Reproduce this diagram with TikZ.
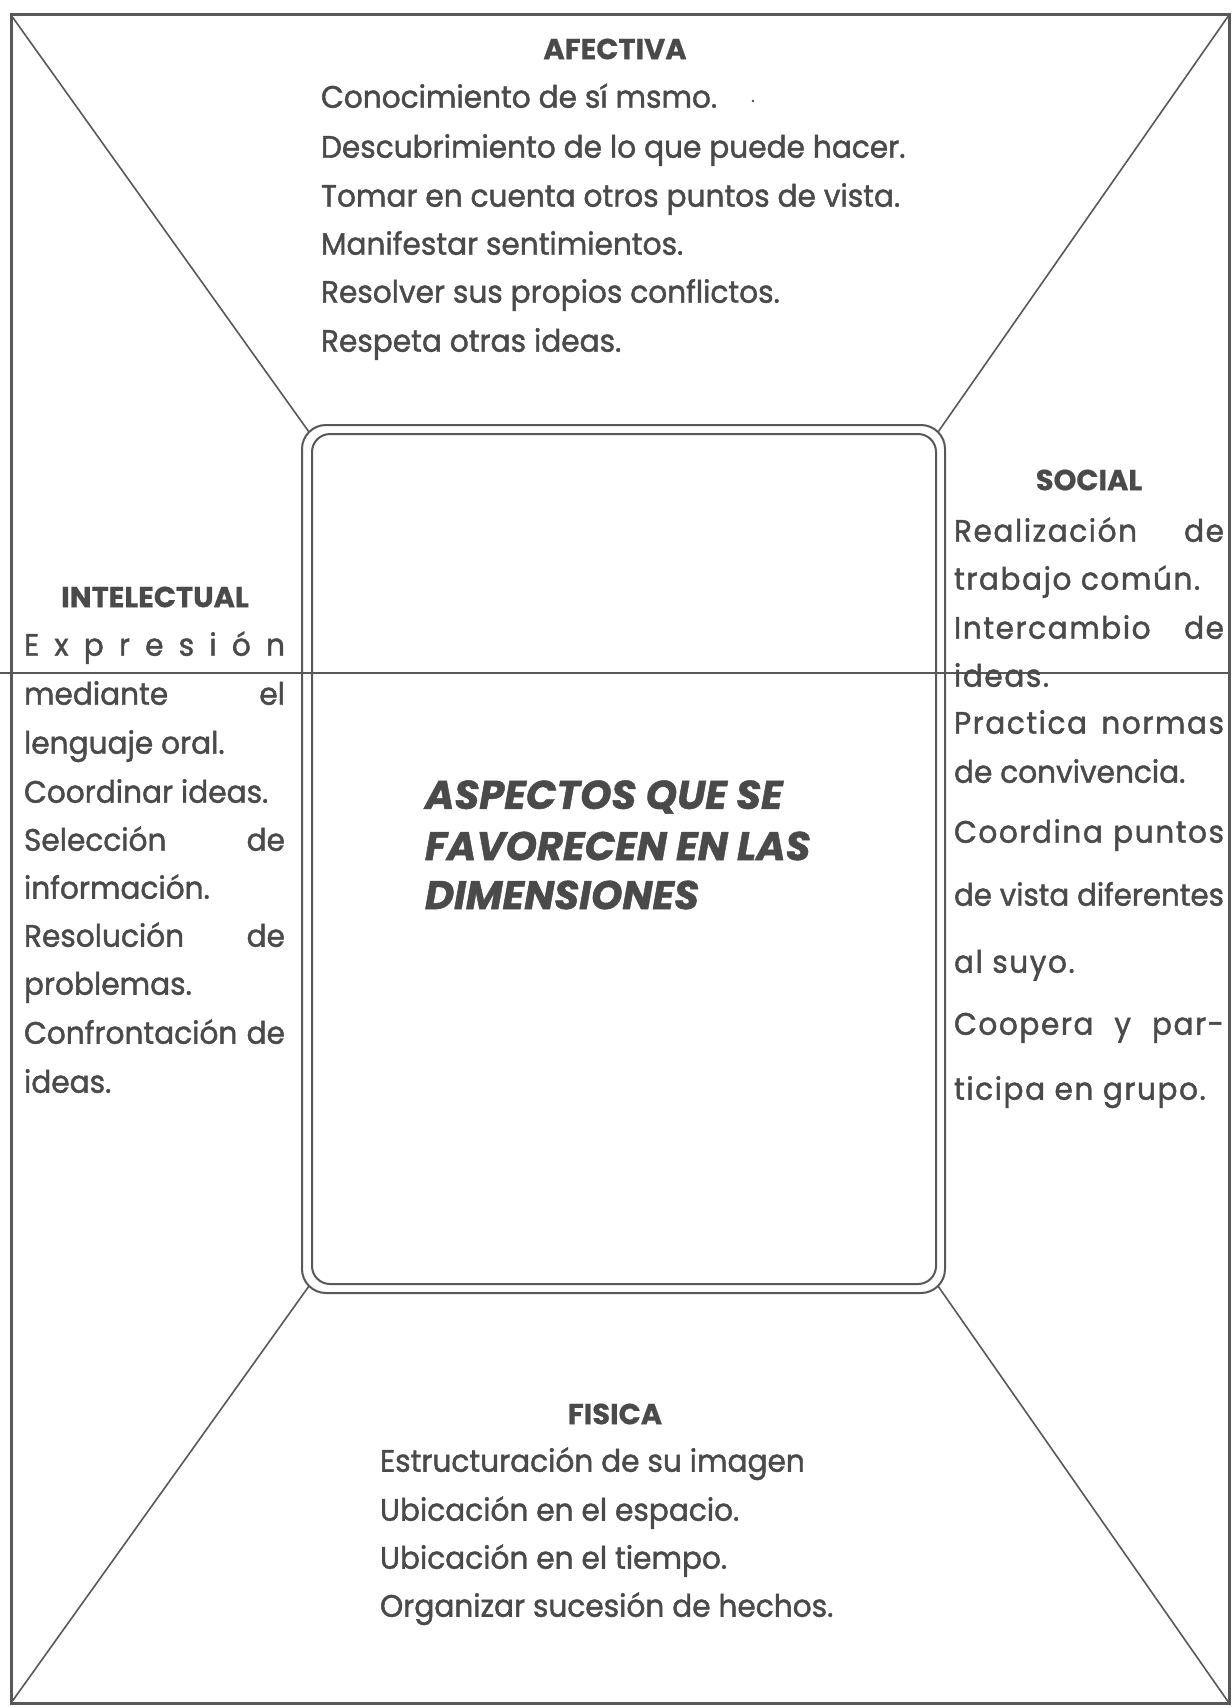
\documentclass[tikz,border=0pt]{standalone}
\usepackage{fontspec}
\usepackage{graphicx}
\setmainfont{Poppins}[UprightFeatures={FakeBold=1.4,FakeStretch=0.955},BoldFeatures={FakeBold=0.6},BoldItalicFeatures={FakeBold=1.2}]
\newfontfamily\trackfont{Poppins}[LetterSpace=5,FakeBold=1.4,FakeStretch=0.955]
\definecolor{ink}{HTML}{4A4A4A}
\definecolor{linec}{HTML}{585858}
\newsavebox\jbox
\newcommand\jline[2]{\sbox\jbox{#2}\ifdim\wd\jbox>#1\relax\resizebox{#1}{\height}{#2}\else\makebox[#1][s]{#2}\fi}
\tikzset{
  txt/.style={inner sep=0pt, outer sep=0pt, text=ink, font=\fontsize{31}{36}\selectfont},
  body/.style={txt, anchor=mid west},
  ttl/.style={inner sep=0pt, outer sep=0pt, text=ink, font=\fontsize{29}{32}\selectfont\bfseries, anchor=center},
  big/.style={inner sep=0pt, outer sep=0pt, text=ink, font=\fontsize{40}{44}\selectfont\bfseries\itshape, anchor=west},
  frameline/.style={line width=3pt, draw=linec},
  diag/.style={line width=1.6pt, draw=linec},
  boxline/.style={line width=2pt, draw=linec},
  hline/.style={line width=1.6pt, draw=linec}
}
\begin{document}
\begin{tikzpicture}[x=1pt,y=-1pt]
\useasboundingbox (0,0) rectangle (1231,1707);
\fill[white] (0,0) rectangle (1231,1707);
% frame
\coordinate (fTL) at (11,15);
\coordinate (fTR) at (1229,15);
\coordinate (fBR) at (1229,1703);
\coordinate (fBL) at (11,1703);
\draw[frameline] (fTL) -- (fTR) -- (fBR) -- (fBL) -- cycle;
% central double box
\draw[boxline, rounded corners=24pt] (302,425) rectangle (945,1293);
\draw[boxline, rounded corners=18pt] (312,434) rectangle (936,1284);
\coordinate (bTL) at (309,432);
\coordinate (bTR) at (938,432);
\coordinate (bBL) at (309,1286);
\coordinate (bBR) at (938,1286);
\draw[diag] (fTL) -- (bTL);
\draw[diag] (fTR) -- (bTR);
\draw[diag] (fBL) -- (bBL);
\draw[diag] (fBR) -- (bBR);
% horizontal line
\coordinate (hL) at (0,673);
\coordinate (hR) at (1231,673);
\draw[hline] (hL) -- (hR);
% speck
\fill[ink] (753,101) circle (1.3pt) coordinate (speck);
% AFECTIVA
\node[ttl] (afT) at (615,49) {AFECTIVA};
\node[body] (af1) at (321,105) {Conocimiento de sí msmo.};
\node[body] (af2) at (321,155) {Descubrimiento de lo que puede hacer.};
\node[body] (af3) at (321,204) {Tomar en cuenta otros puntos de vista.};
\node[body] (af4) at (321,252) {Manifestar sentimientos.};
\node[body] (af5) at (321,300) {Resolver sus propios conflictos.};
\node[body] (af6) at (321,349) {Respeta otras ideas.};
% INTELECTUAL
\node[ttl] (inT) at (155,597) {INTELECTUAL};
\node[body] (in1) at (24,653) {\jline{261pt}{E\hfill x\hfill p\hfill r\hfill e\hfill s\hfill i\hfill ó\hfill n}};
\node[body] (in2) at (24,702) {\jline{261pt}{mediante el}};
\node[body] (in3) at (24,751) {lenguaje oral.};
\node[body] (in4) at (24,800) {Coordinar ideas.};
\node[body] (in5) at (24,848) {\jline{261pt}{Selección de}};
\node[body] (in6) at (24,896) {información.};
\node[body] (in7) at (24,944) {\jline{261pt}{Resolución de}};
\node[body] (in8) at (24,992) {problemas.};
\node[body] (in9) at (24,1041) {\jline{261pt}{Confrontación de}};
\node[body] (in10) at (24,1090) {ideas.};
% SOCIAL
\node[ttl] (soT) at (1089,480) {SOCIAL};
\node[body] (so1) at (954,539) {\trackfont\jline{270pt}{Realización de}};
\node[body] (so2) at (954,587) {\trackfont trabajo común.};
\node[body] (so3) at (954,636) {\trackfont\jline{270pt}{Intercambio de}};
\node[body] (so4) at (954,684) {\trackfont ideas.};
\node[body] (so5) at (954,731) {\trackfont\jline{270pt}{Practica normas}};
\node[body] (so6) at (954,780) {de convivencia.};
\node[body] (so7) at (954,840) {\trackfont\jline{270pt}{Coordina puntos}};
\node[body] (so8) at (954,903) {\jline{270pt}{de vista diferentes}};
\node[body] (so9) at (954,970) {\trackfont al suyo.};
\node[body] (so10) at (954,1032) {\trackfont\jline{270pt}{Coopera y par-}};
\node[body] (so11) at (954,1097) {\trackfont ticipa en grupo.};
% FISICA
\node[ttl] (fiT) at (615,1414) {FISICA};
\node[body] (fi1) at (380,1469) {Estructuración de su imagen};
\node[body] (fi2) at (380,1518) {Ubicación en el espacio.};
\node[body] (fi3) at (380,1566) {Ubicación en el tiempo.};
\node[body] (fi4) at (380,1614) {Organizar sucesión de hechos.};
% centre
\node[big] (c1) at (425,797) {ASPECTOS QUE SE};
\node[big] (c2) at (425,846) {FAVORECEN EN LAS};
\node[big] (c3) at (425,895) {DIMENSIONES};
\end{tikzpicture}
\end{document}
